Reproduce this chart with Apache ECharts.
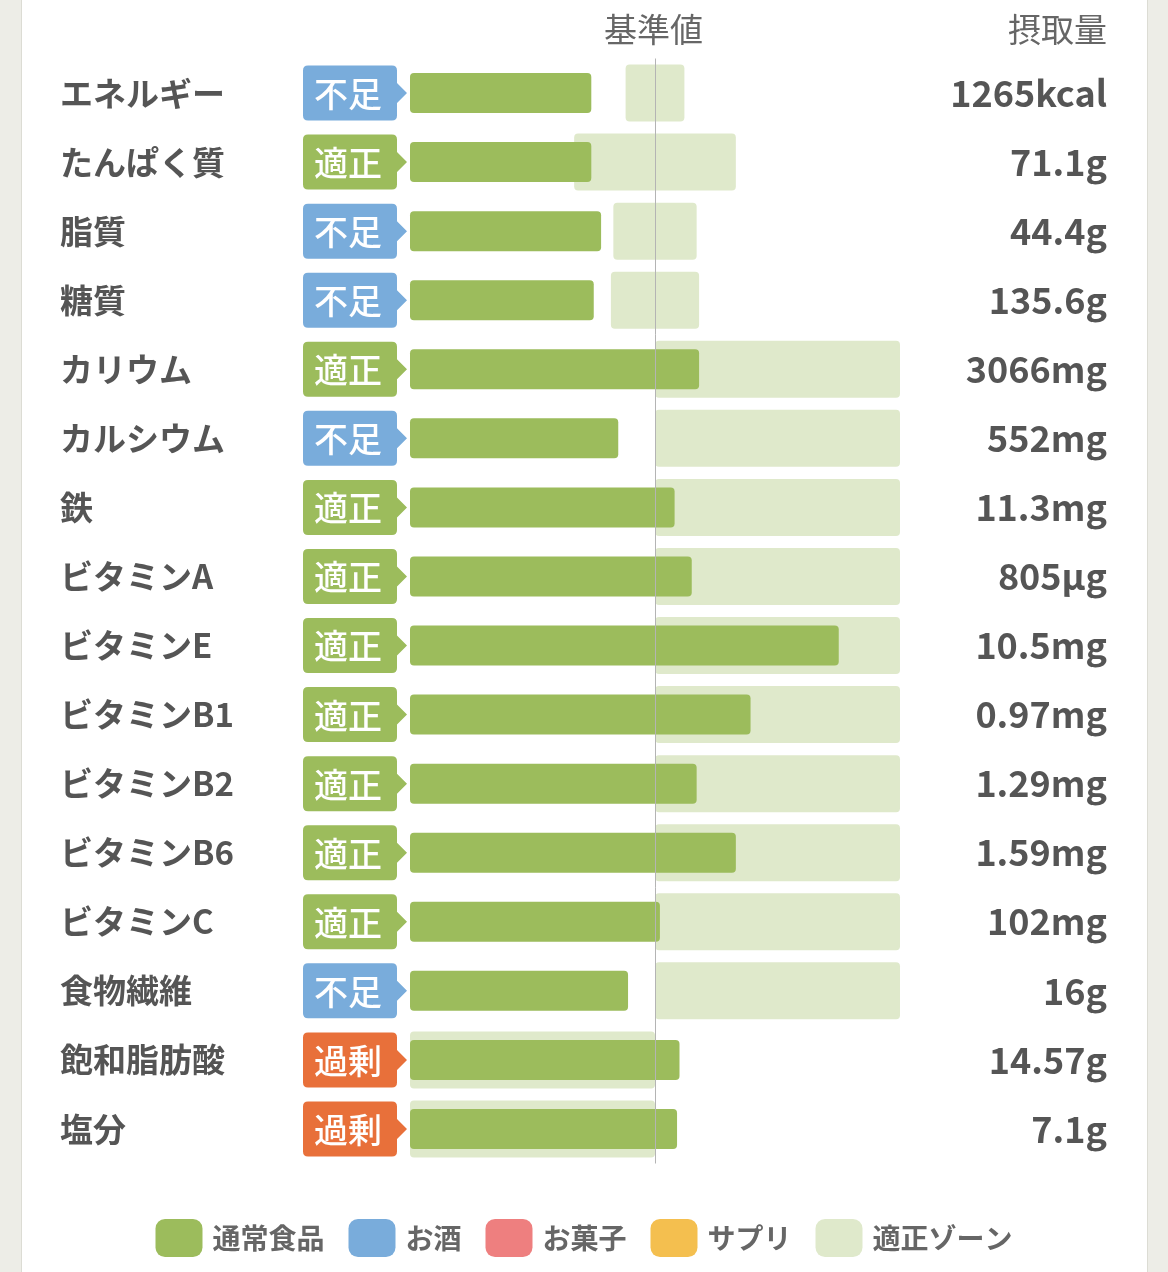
<!DOCTYPE html>
<html>
<head>
<meta charset="utf-8">
<title>栄養素 摂取量</title>
<script src="https://cdn.jsdelivr.net/npm/echarts@6/dist/echarts.min.js"></script>
<style>
  html, body { margin: 0; padding: 0; background: #ededE7; }
  #card {
    position: absolute; left: 21px; top: 0; width: 1125px; height: 1272px;
    background: #fff; border-left: 1px solid #dcdcd4; border-right: 1px solid #dcdcd4;
  }
  #chart { position: absolute; left: 0; top: 0; width: 1168px; height: 1272px; }
</style>
</head>
<body>
<div id="card"></div>
<div id="chart"></div>
<script>
// 栄養素ごとのデータ（基準値 = 100）
const nutrients = ['エネルギー', 'たんぱく質', '脂質', '糖質', 'カリウム', 'カルシウム', '鉄',
  'ビタミンA', 'ビタミンE', 'ビタミンB1', 'ビタミンB2', 'ビタミンB6', 'ビタミンC', '食物繊維',
  '飽和脂肪酸', '塩分'];
const statusList = ['不足', '適正', '不足', '不足', '適正', '不足', '適正', '適正', '適正', '適正',
  '適正', '適正', '適正', '不足', '過剰', '過剰'];
const intakeLabels = ['1265kcal', '71.1g', '44.4g', '135.6g', '3066mg', '552mg', '11.3mg', '805µg',
  '10.5mg', '0.97mg', '1.29mg', '1.59mg', '102mg', '16g', '14.57g', '7.1g'];
// 通常食品の摂取割合（%）
const foodRatio = [74, 74, 78, 75, 118, 85, 108, 115, 175, 139, 117, 133, 102, 89, 110, 109];
// 適正ゾーン（%）
const zoneLow = [88, 67, 83, 82, 100, 100, 100, 100, 100, 100, 100, 100, 100, 100, 0, 0];
const zoneHigh = [112, 133, 117, 118, 200, 200, 200, 200, 200, 200, 200, 200, 200, 200, 100, 100];
const baseValue = 100;

const statusColors = { '不足': '#79acdb', '適正': '#9cbc5c', '過剰': '#e8703a' };
const legendColors = {
  '通常食品': '#9cbc5c',
  'お酒': '#79acdb',
  'お菓子': '#ee7f7f',
  'サプリ': '#f4bf4f',
  '適正ゾーン': '#dfe9cb',
};

const chart = echarts.init(document.getElementById('chart'));

/**
 * 適正ゾーンの描画
 */
const renderZone = (params, api) => {
  const start = api.coord([api.value(1), api.value(0)]);
  const end = api.coord([api.value(2), api.value(0)]);
  const h = 57;
  return {
    type: 'rect',
    shape: { x: start[0], y: start[1] - h / 2, width: end[0] - start[0], height: h, r: 4 },
    style: { fill: legendColors['適正ゾーン'] },
  };
};

/**
 * 判定バッジの描画
 */
const renderBadge = (params, api) => {
  const idx = api.value(0);
  const p = api.coord([0, idx]);
  const y = p[1];
  const x1 = p[0] - 107;
  const x2 = p[0] - 13;
  const tip = p[0] - 3;
  const yt = y - 27.5;
  const yb = y + 27.5;
  const r = 5;
  const path = `M${x1 + r},${yt} L${x2 - r},${yt} Q${x2},${yt} ${x2},${yt + r} L${x2},${y - 10} ` +
    `L${tip},${y} L${x2},${y + 10} L${x2},${yb - r} Q${x2},${yb} ${x2 - r},${yb} L${x1 + r},${yb} ` +
    `Q${x1},${yb} ${x1},${yb - r} L${x1},${yt + r} Q${x1},${yt} ${x1 + r},${yt} Z`;
  const status = statusList[idx];
  return {
    type: 'group',
    children: [
      { type: 'path', shape: { pathData: path }, style: { fill: statusColors[status] } },
      {
        type: 'text',
        style: {
          x: (x1 + x2) / 2 - 2, y: y + 1, text: status, fill: '#fff',
          font: '500 34px "Noto Sans CJK JP"', align: 'center', verticalAlign: 'middle',
        },
      },
    ],
  };
};

const headerFont = 'normal 33px "Noto Sans CJK JP"';

const option = {
  animation: false,
  graphic: [
    {
      type: 'text', left: 604, top: 13,
      style: { text: '基準値', font: headerFont, fill: '#666' },
    },
    {
      type: 'text', right: 61, top: 13,
      style: { text: '摂取量', font: headerFont, fill: '#666' },
    },
  ],
  legend: {
    bottom: 10,
    left: 'center',
    itemWidth: 47,
    itemHeight: 38,
    itemGap: 24,
    selectedMode: false,
    textStyle: {
      fontFamily: 'Noto Sans CJK JP', fontSize: 28, fontWeight: 'bold', color: '#666',
      padding: [0, 0, 0, 5],
    },
    data: Object.keys(legendColors).map(name => ({
      name,
      icon: 'roundRect',
      itemStyle: { color: legendColors[name] },
    })),
  },
  grid: { left: 410, right: 268, top: 58.5, bottom: 108.5 },
  xAxis: { type: 'value', min: 0, max: 200, show: false },
  yAxis: [
    {
      type: 'category',
      data: nutrients,
      inverse: true,
      axisLine: { show: false },
      axisTick: { show: false },
      axisLabel: {
        align: 'left', margin: 350,
        fontFamily: 'Noto Sans CJK JP', fontSize: 33, fontWeight: 'bold', color: '#555',
      },
    },
    {
      type: 'category',
      data: intakeLabels,
      inverse: true,
      position: 'right',
      axisLine: { show: false },
      axisTick: { show: false },
      axisLabel: {
        align: 'right', margin: 207,
        fontFamily: 'Noto Sans CJK JP', fontSize: 36, fontWeight: 'bold', color: '#555',
      },
    },
  ],
  series: [
    {
      name: '適正ゾーン',
      type: 'custom',
      z: 1,
      silent: true,
      renderItem: renderZone,
      encode: { x: [1, 2], y: 0 },
      data: nutrients.map((n, i) => [i, zoneLow[i], zoneHigh[i]]),
    },
    {
      name: '通常食品',
      type: 'bar',
      stack: 'intake',
      z: 2,
      barWidth: 40,
      itemStyle: { color: legendColors['通常食品'], borderRadius: 4 },
      data: foodRatio,
    },
    { name: 'お酒', type: 'bar', stack: 'intake', itemStyle: { color: legendColors['お酒'] }, data: [] },
    { name: 'お菓子', type: 'bar', stack: 'intake', itemStyle: { color: legendColors['お菓子'] }, data: [] },
    { name: 'サプリ', type: 'bar', stack: 'intake', itemStyle: { color: legendColors['サプリ'] }, data: [] },
    {
      name: '判定',
      type: 'custom',
      z: 3,
      silent: true,
      renderItem: renderBadge,
      encode: { y: 0 },
      data: nutrients.map((n, i) => [i]),
    },
    {
      // 基準値の縦線
      name: '基準線',
      type: 'line',
      z: 5,
      data: [],
      markLine: {
        silent: true,
        symbol: 'none',
        label: { show: false },
        lineStyle: { color: '#b4b4b4', width: 1, type: 'solid' },
        data: [{ xAxis: baseValue }],
      },
    },
  ],
};

chart.setOption(option);
</script>
</body>
</html>
